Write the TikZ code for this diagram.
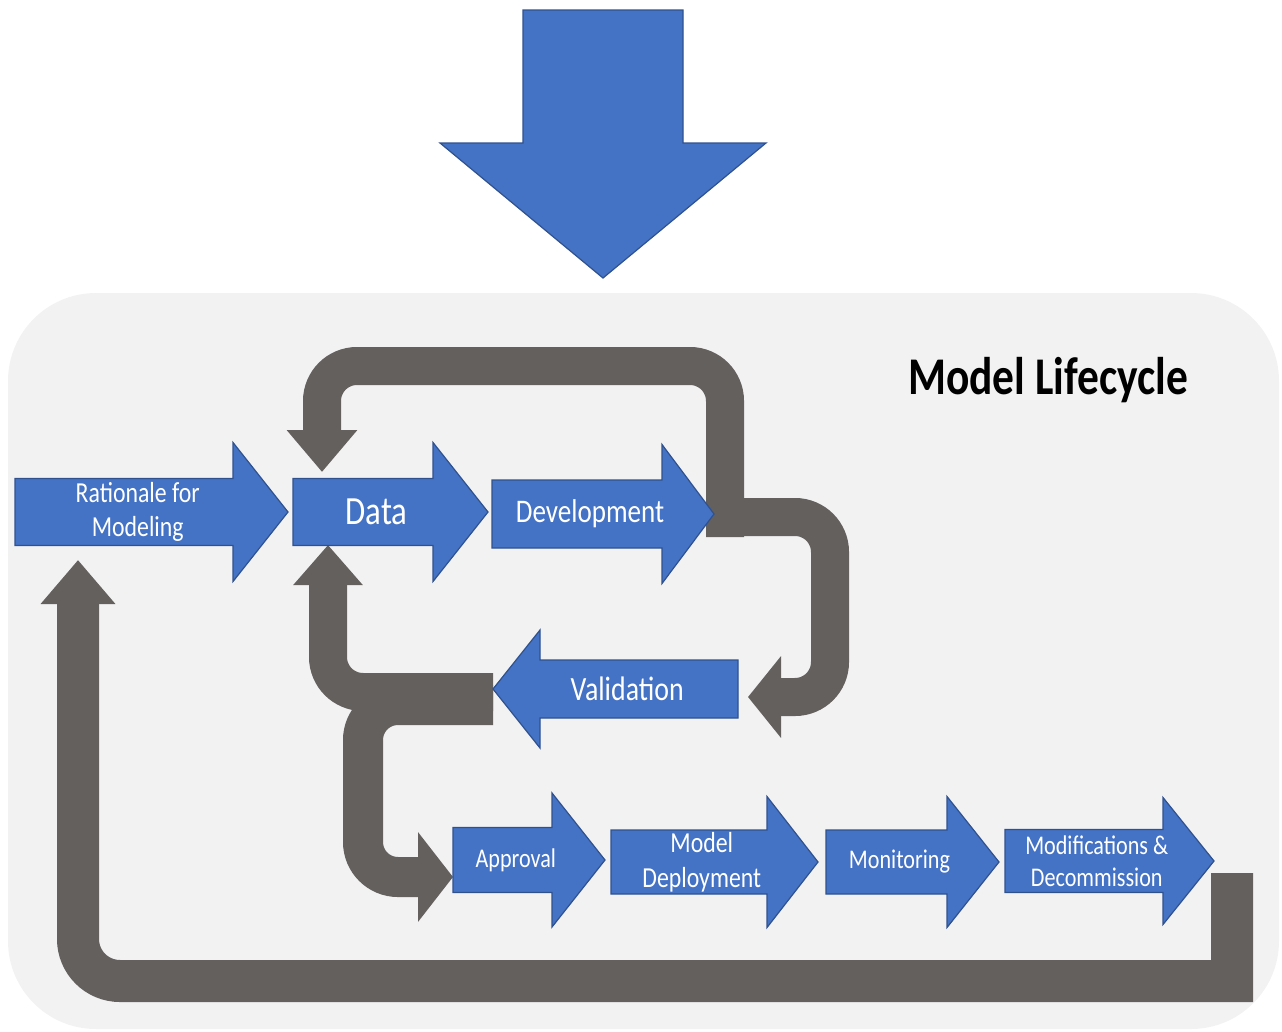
\documentclass[tikz,border=0pt]{standalone}
\usepackage{fontspec}
\setmainfont{Carlito}[FakeStretch=0.82]
\usetikzlibrary{calc,arrows.meta,backgrounds}

\definecolor{stageblue}{HTML}{4472C4}
\definecolor{stageedge}{HTML}{2F528F}
\definecolor{loopgray}{RGB}{99,96,94}
\definecolor{panelgray}{HTML}{F2F2F2}

\tikzset{
    stage/.style={fill=stageblue, draw=stageedge, line width=1.2pt, line join=miter},
    stagetext/.style={text=white, align=center, inner sep=0pt},
    feedback/.style={draw=loopgray, line width=38pt},
}

\begin{document}
\begin{tikzpicture}[x=1pt, y=-1pt]
    % \draw[help lines, step=100](0,0) grid (1282,1031);
    \useasboundingbox (0,0) rectangle (1282,1031);

    % big arrow coming in from the top
    \path[stage] (523,10) -- (683,10) -- (683,143) -- (766,143) -- (603,278) -- (440,143) -- (523,143) -- cycle;

    % title
    \node[font=\bfseries\fontsize{53}{62}\selectfont, anchor=base] (title) at (1048,394) {Model Lifecycle};

    % stages: name / tail / head start / tip / y / shaft half / head half / font size / text
    \foreach \name/\tail/\head/\tip/\y/\sh/\hh/\fs/\txt in {
        ratl/15/233/288/512/33.5/69.5/29/{Rationale for\\Modeling},
        data/293/433/488/512/33.5/69.5/40/Data,
        dev/492/662/714/514/34/69.5/33/Development,
        valid/738/540/493/689/29/59/34/Validation,
        appr/453/552/605/860/32.5/67/27/Approval,
        deploy/611/767/818/862/32/65.5/29/{Model\\Deployment},
        monit/826/947/999/862/32/65.5/27/Monitoring,
        modif/1005/1163/1214/861/31.5/63.5/27/{Modifications \&\\Decommission}} {
        \pgfmathsetmacro{\tx}{(\tail+\head)/2+(\tip-\head)/4}
        \pgfmathsetmacro{\bs}{1.2*\fs}
        \path[stage] (\tail,\y-\sh) -- (\head,\y-\sh) -- (\head,\y-\hh) -- (\tip,\y)
            -- (\head,\y+\hh) -- (\head,\y+\sh) -- (\tail,\y+\sh) -- cycle;
        \coordinate (\name-tail) at (\tail,\y);
        \coordinate (\name-tip) at (\tip,\y);
        \node[stagetext, font=\fontsize{\fs}{\bs}\selectfont] (\name) at (\tx,\y) {\txt};
    }

    \begin{scope}[on background layer]
        % panel
        \fill[panelgray, rounded corners=88pt] (8,293) rectangle (1279,1029);

        % development back to data over the top
        \draw[feedback, rounded corners=35pt, -{Triangle[width=68pt,length=42pt]}]
            ($(dev-tip)+(11,23)$) |- ($(data-tail)+(29,-146)$) -- ($(data-tail)+(29,-40)$);

        % development down to validation
        \draw[feedback, rounded corners=35pt, -{Triangle[width=80pt,length=33pt]}]
            ($(dev-tip)+(0,3)$) -| ($(valid-tail)+(92,8)$) -- ($(valid-tail)+(10,8)$);

        % validation back up to data
        \draw[feedback, rounded corners=35pt, -{Triangle[width=67pt,length=40pt]}]
            ($(valid-tip)+(0,3)$) -| ($(data-tail)+(35,33)$);

        % validation down to approval
        \draw[feedback, line width=40pt, rounded corners=35pt, -{Triangle[width=88pt,length=35pt]}]
            ($(valid-tip)+(0,16)$) -| ($(appr-tail)+(-90,17)$) -- ($(appr-tail)+(0,17)$);

        % modifications back to rationale along the bottom
        \draw[feedback, line width=42pt, -{Triangle[width=72pt,length=44pt]}]
            ($(modif-tip)+(18,12)$) -- ($(modif-tip)+(18,120)$) [rounded corners=42pt]
            -- ($(ratl-tail)+(63,469)$) -- ($(ratl-tail)+(63,48)$);
    \end{scope}
\end{tikzpicture}
\end{document}
